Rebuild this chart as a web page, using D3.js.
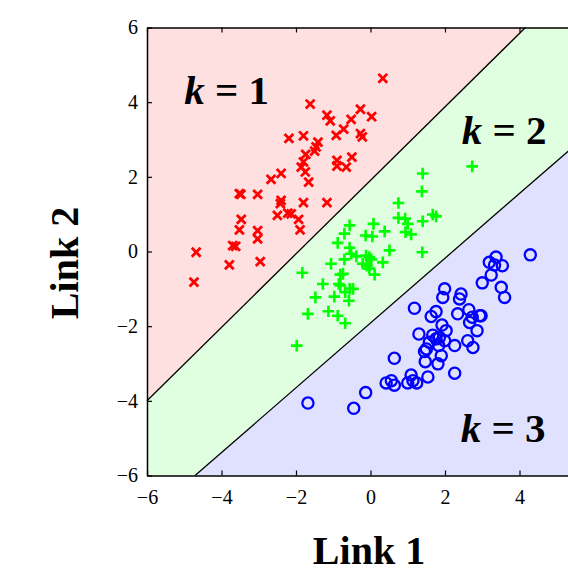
<!DOCTYPE html>
<html>
<head>
<meta charset="utf-8">
<script src="https://cdn.jsdelivr.net/npm/d3@7"></script>
<style>
  body { margin: 0; background: #fff; }
  svg { display: block; }
</style>
</head>
<body>
<svg width="568" height="572"></svg>
<script>
// class k = 1 (red crosses)
const redX = [0.33, -1.62, -1.17, -1.08, -0.27, 0.03, -0.52, -0.72, -0.92, -0.27, -0.22, -2.19, -1.80, -1.41, -1.46, -1.50, -1.74, -1.80, -1.86, -1.75, -1.66, -0.90, -0.90, -0.65, -0.50, -2.40, -2.67, -3.52, -3.48, -3.03, -2.40, -2.42, -1.80, -1.17, -2.50, -2.22, -2.13, -1.93, -1.89, -3.47, -3.52, -3.03, -3.03, -3.70, -3.62, -4.68, -3.79, -2.96, -4.74];
const redY = [4.64, 3.95, 3.65, 3.50, 3.81, 3.61, 3.54, 3.28, 3.11, 3.16, 3.07, 3.03, 3.10, 2.93, 2.80, 2.69, 2.60, 2.40, 2.26, 2.13, 1.86, 2.44, 2.29, 2.26, 2.53, 2.09, 1.93, 1.55, 1.53, 1.53, 1.37, 1.28, 1.31, 1.31, 0.97, 1.03, 1.01, 0.86, 0.58, 0.86, 0.58, 0.56, 0.34, 0.16, 0.14, -0.02, -0.36, -0.27, -0.82];

// class k = 2 (green pluses)
const greenX = [2.73, 1.40, 1.38, 0.75, 0.75, 0.93, 1.00, 0.94, 1.09, 1.40, 1.67, 1.76, 1.39, 0.08, 0.38, -0.13, 0.05, -0.56, -0.70, -0.88, -0.56, 0.51, -0.52, -0.70, -0.38, -0.12, -0.03, 0.02, -0.21, -0.10, -0.03, 0.11, 0.33, -1.06, -1.83, -0.81, -0.85, -0.81, -1.28, -0.56, -0.68, -0.97, -1.48, -0.58, -1.68, -1.13, -0.88, -0.68, -1.98, -0.74, -0.47];
const greenY = [2.28, 2.09, 1.61, 1.30, 0.90, 0.88, 0.74, 0.52, 0.46, 0.81, 0.99, 0.94, -0.02, 0.74, 0.54, 0.43, 0.40, 0.70, 0.48, 0.23, 0.10, 0.03, -0.06, -0.21, -0.13, -0.11, -0.15, -0.21, -0.33, -0.38, -0.46, -0.62, -0.29, -0.33, -0.57, -0.62, -0.87, -0.91, -0.87, -1.00, -1.09, -1.21, -1.23, -1.32, -1.67, -1.60, -1.72, -1.92, -2.52, -0.60, -1.00];

// class k = 3 (blue circles)
const blueX = [4.29, 3.37, 3.19, 3.33, 3.54, 3.24, 3.00, 3.51, 3.60, 1.99, 1.94, 2.43, 2.39, 1.18, 1.76, 1.63, 2.34, 2.64, 2.73, 2.93, 2.97, 2.66, 1.92, 2.03, 2.86, 1.30, 1.67, 1.76, 1.85, 1.99, 2.61, 2.75, 2.26, 1.50, 1.45, 1.90, 1.81, 1.47, 0.64, 2.26, 1.54, 1.09, 1.14, 1.00, 1.24, 0.42, 0.56, 0.64, -0.13, -0.45, -1.68, 1.58, 1.83];
const blueY = [-0.09, -0.15, -0.29, -0.36, -0.38, -0.63, -0.84, -0.96, -1.23, -1.00, -1.23, -1.14, -1.27, -1.52, -1.61, -1.74, -1.67, -1.56, -1.76, -1.72, -1.72, -1.90, -1.97, -2.12, -2.12, -2.21, -2.24, -2.34, -2.30, -2.39, -2.39, -2.57, -2.52, -2.61, -2.68, -2.79, -3.01, -2.95, -2.86, -3.26, -3.36, -3.31, -3.46, -3.52, -3.52, -3.52, -3.46, -3.58, -3.78, -4.20, -4.06, -2.43, -2.52];

// decision boundaries (end points)
const boundary12 = [[-6, -4], [4.16, 6]];
const boundary23 = [[-4.71, -6], [6, 3.29]];

const ticks = [-6, -4, -2, 0, 2, 4, 6];
const xTickLabels = [-6, -4, -2, 0, 2, 4];
const regionLabels = ["k = 1", "k = 2", "k = 3"];

const svg = d3.select('svg');
const x = d3.scaleLinear().domain([-6, 6]).range([147, 594]);
const y = d3.scaleLinear().domain([-6, 6]).range([475.5, 27.5]);
const serif = "'Liberation Serif', 'Times New Roman', serif";
const fmt = d => d < 0 ? '\u2212' + (-d) : d;

const line = d3.line().x(d => x(d[0])).y(d => y(d[1]));

// shaded regions
const regions = [
  { pts: [[-6, 6], boundary12[1], boundary12[0]], fill: "#ffe0e0" },
  { pts: [boundary12[0], boundary12[1], [6, 6], boundary23[1], boundary23[0], [-6, -6]], fill: "#e0ffe0" },
  { pts: [boundary23[0], boundary23[1], [6, -6]], fill: "#e0e0ff" }
];
svg.selectAll('.region')
  .data(regions)
  .enter()
  .append('path')
  .attr('class', 'region')
  .attr('d', d => line(d.pts) + 'Z')
  .attr('fill', d => d.fill);

svg.selectAll('.boundary')
  .data([boundary12, boundary23])
  .enter()
  .append('path')
  .attr('class', 'boundary')
  .attr('d', line)
  .attr('fill', 'none')
  .attr('stroke', '#000')
  .attr('stroke-width', 1.3);

// markers
const red = redX.map((v, i) => [v, redY[i]]);
const green = greenX.map((v, i) => [v, greenY[i]]);
const blue = blueX.map((v, i) => [v, blueY[i]]);

svg.append('g').selectAll('path')
  .data(red)
  .enter()
  .append('path')
  .attr('transform', d => 'translate(' + x(d[0]) + ',' + y(d[1]) + ')')
  .attr('d', 'M-4.4,-4.4L4.4,4.4M-4.4,4.4L4.4,-4.4')
  .attr('stroke', '#ff0000')
  .attr('stroke-width', 2.8);

svg.append('g').selectAll('path')
  .data(green)
  .enter()
  .append('path')
  .attr('transform', d => 'translate(' + x(d[0]) + ',' + y(d[1]) + ')')
  .attr('d', 'M-5.8,0L5.8,0M0,-5.8L0,5.8')
  .attr('stroke', '#00ff00')
  .attr('stroke-width', 2.6);

svg.append('g').selectAll('circle')
  .data(blue)
  .enter()
  .append('circle')
  .attr('cx', d => x(d[0]))
  .attr('cy', d => y(d[1]))
  .attr('r', 5.6)
  .attr('fill', 'none')
  .attr('stroke', '#0000ff')
  .attr('stroke-width', 2.3);

// axes box and ticks
const axisStyle = g => {
  g.selectAll('text').style('font-family', serif).style('font-size', '20px').attr('fill', '#000');
  g.select('.domain').attr('stroke-width', 1.5);
  g.selectAll('line').attr('stroke-width', 1.2);
};

// bottom: tick marks on every value, labels only where they fit in the window
svg.append('g')
  .attr('transform', 'translate(0,' + y(-6) + ')')
  .call(d3.axisBottom(x).tickValues(ticks).tickSizeInner(-5).tickSizeOuter(0).tickFormat(''))
  .call(axisStyle);

svg.append('g')
  .attr('transform', 'translate(0,' + y(-6) + ')')
  .call(d3.axisBottom(x).tickValues(xTickLabels).tickSize(0).tickPadding(14).tickFormat(fmt))
  .call(axisStyle)
  .call(g => g.select('.domain').remove());

svg.append('g')
  .attr('transform', 'translate(0,' + y(6) + ')')
  .call(d3.axisTop(x).tickValues(ticks).tickSizeInner(-5).tickSizeOuter(0).tickFormat(''))
  .call(axisStyle);

svg.append('g')
  .attr('transform', 'translate(' + x(-6) + ',0)')
  .call(d3.axisLeft(y).tickValues(ticks).tickSizeInner(-5).tickSizeOuter(0).tickPadding(9).tickFormat(fmt))
  .call(axisStyle);

// axis titles
svg.append('text')
  .attr('x', 369)
  .attr('y', 564)
  .attr('text-anchor', 'middle')
  .style('font-family', serif)
  .style('font-weight', 'bold')
  .style('font-size', '40px')
  .text('Link 1');

svg.append('text')
  .attr('transform', 'translate(78,263) rotate(-90)')
  .attr('text-anchor', 'middle')
  .style('font-family', serif)
  .style('font-weight', 'bold')
  .style('font-size', '40px')
  .text('Link 2');

// region labels
const labelPos = [[-5.0, 3.95], [2.45, 2.88], [2.42, -5.1]];
regionLabels.forEach((lab, i) => {
  const t = svg.append('text')
    .attr('x', x(labelPos[i][0]))
    .attr('y', y(labelPos[i][1]))
    .style('font-family', serif)
    .style('font-weight', 'bold')
    .style('font-size', '41px');
  t.append('tspan').style('font-style', 'italic').text(lab.split(' = ')[0]);
  t.append('tspan').text(' = ' + lab.split(' = ')[1]);
});
</script>
</body>
</html>
